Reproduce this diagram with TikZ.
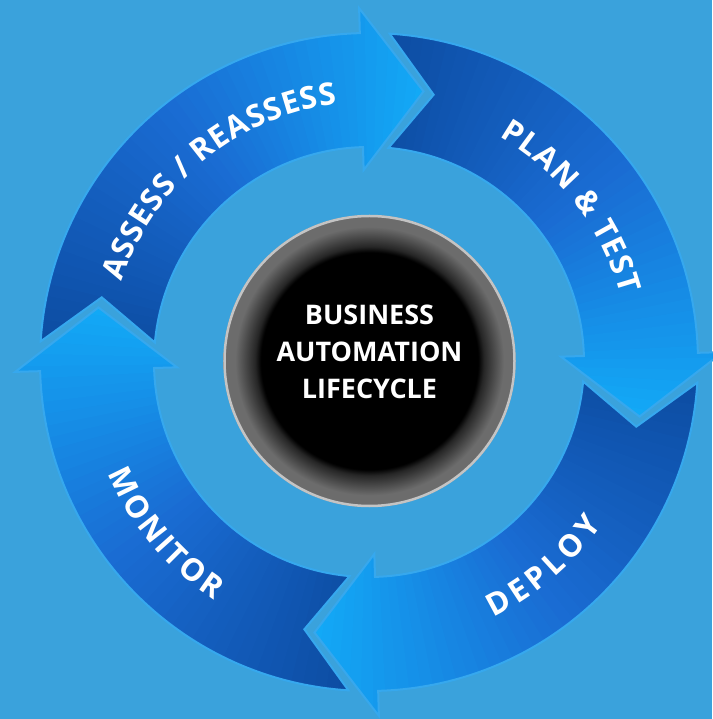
\documentclass[tikz,border=0pt]{standalone}
\usepackage{fontspec}
\setmainfont{Open Sans}
\usetikzlibrary{decorations.text}
\definecolor{bgblue}{HTML}{3AA2DC}
\definecolor{adark}{HTML}{0B4A9F}
\definecolor{amid}{HTML}{1A6CD3}
\definecolor{abright}{HTML}{12ACF8}
\definecolor{headline}{HTML}{36A8EE}
\definecolor{ringgrey}{HTML}{6C6C6C}
\definecolor{ringdark}{HTML}{262626}
\definecolor{ringedge}{HTML}{C4C4C4}
\pgfdeclareradialshading{ringshade}{\pgfpointorigin}{color(0bp)=(black); color(18.6bp)=(black); color(19.6bp)=(ringdark); color(23bp)=(ringgrey); color(50bp)=(ringgrey)}
\newcommand\curvefont{\fontsize{31}{31}\selectfont\bfseries}
\newcommand\centerfont{\fontsize{27}{30}\selectfont\bfseries}
\tikzset{
  arrowpath/.style={insert path={(176.4:329pt) arc[start angle=176.4, end angle=91.6, radius=329pt]
     -- (91.6:354pt) -- (78.6:276pt) -- (91.6:192pt) -- (91.6:215pt)
     arc[start angle=91.6, end angle=174.8, radius=215pt] -- (166.4:275pt) -- cycle}},
  curvetext/.style={decoration={text effects along path, text={#1}, text align=center,
     text effects/.cd, text along path, fit text to path, characters={text=white, font=\curvefont}}, decorate},
  centertext/.style={text=white, font=\centerfont, inner sep=0pt, anchor=base}
}
\begin{document}
\begin{tikzpicture}[x=1pt,y=1pt]
\useasboundingbox (-369pt,-357pt) rectangle (343pt,362pt);
\fill[bgblue] (-369pt,-357pt) rectangle (343pt,362pt);
\foreach \k in {0,1,2,3}{
  \begin{scope}[rotate=-90*\k]
    \begin{scope}
      \clip[arrowpath];
      \foreach \i in {0,...,49}{
        \pgfmathsetmacro\aa{181-2.1*\i}
        \pgfmathsetmacro\ab{\aa-2.7}
        \ifnum\i<25
          \pgfmathtruncatemacro\p{\i*4}
          \colorlet{slice}{amid!\p!adark}
        \else
          \pgfmathtruncatemacro\p{(\i-25)*100/24}
          \colorlet{slice}{abright!\p!amid}
        \fi
        \fill[slice] (0pt,0pt) -- (\aa:380pt) arc[start angle=\aa, end angle=\ab, radius=380pt] -- cycle;
      }
    \end{scope}
    \draw[headline, line width=2pt, line join=miter, arrowpath];
  \end{scope}
}
\path[curvetext={ASSESS / REASSESS}] (162:260pt) arc[start angle=162, end angle=97, radius=260pt];
\path[curvetext={PLAN {\&} TEST}] (60:260pt) arc[start angle=60, end angle=15, radius=260pt];
\path[curvetext={DEPLOY}] (-64:284pt) arc[start angle=-64, end angle=-35, radius=284pt];
\path[curvetext={MONITOR}] (203:284pt) arc[start angle=203, end angle=237, radius=284pt];
\shade[shading=ringshade] (0.5pt,1pt) circle[radius=146pt];
\draw[ringedge, line width=2.5pt] (0.5pt,1pt) circle[radius=145pt];
\node[centertext] (t1) at (0.5pt,37pt) {BUSINESS};
\node[centertext] (t2) at (0.5pt,0pt) {AUTOMATION};
\node[centertext] (t3) at (0.5pt,-36.5pt) {LIFECYCLE};
\end{tikzpicture}
\end{document}
